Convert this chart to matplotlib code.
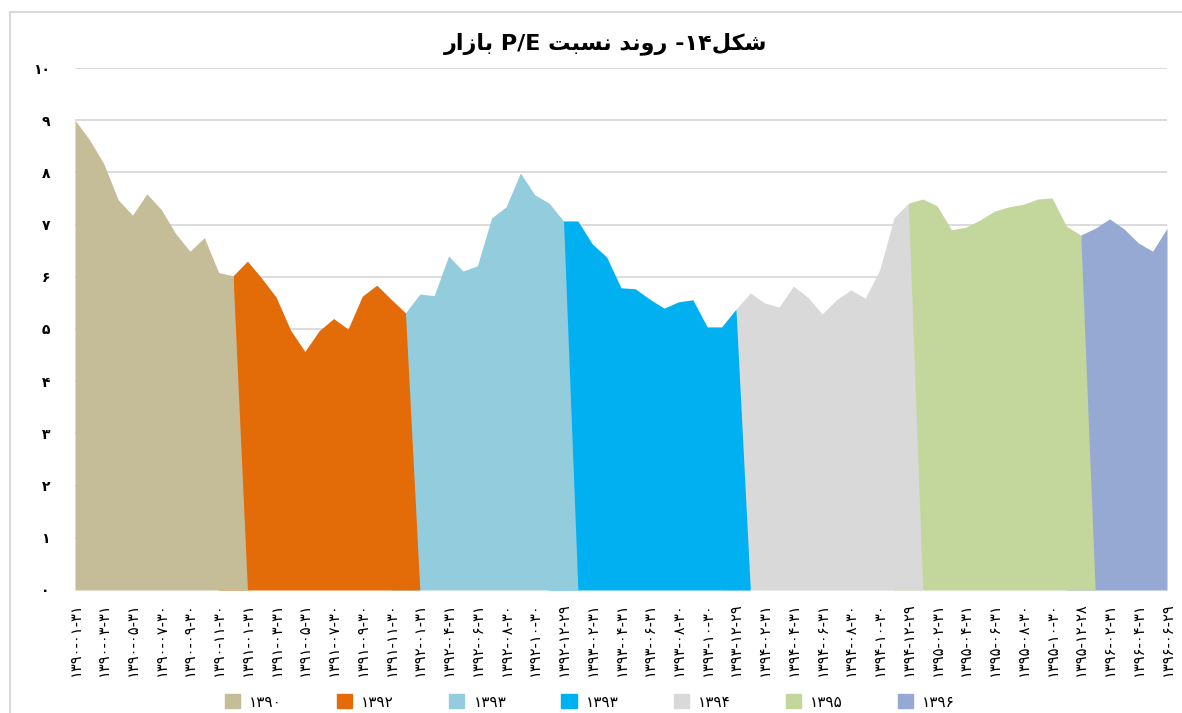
import numpy as np
import matplotlib.pyplot as plt
from matplotlib.patches import Patch, Rectangle

# P/E values, one per month (1390-01 .. 1396-06)
pe_values = [9.00, 8.63, 8.17, 7.48, 7.18, 7.59, 7.29, 6.83, 6.49, 6.75, 6.08, 6.02,
             6.30, 5.97, 5.61, 4.98, 4.57, 4.97, 5.20, 5.00, 5.63, 5.84, 5.57, 5.31,
             5.67, 5.64, 6.40, 6.11, 6.21, 7.13, 7.34, 7.99, 7.57, 7.41, 7.07,
             7.07, 6.63, 6.38, 5.79, 5.77, 5.57, 5.40, 5.52, 5.56, 5.04, 5.04, 5.38,
             5.69, 5.50, 5.42, 5.82, 5.61, 5.29, 5.56, 5.75, 5.59, 6.13, 7.13, 7.41,
             7.49, 7.36, 6.90, 6.95, 7.09, 7.26, 7.34, 7.39, 7.49, 7.51, 6.97, 6.80,
             6.93, 7.11, 6.92, 6.65, 6.49, 6.93]

# labels shown on every second point
tick_labels = ["1390-01-31", "1390-03-31", "1390-05-31", "1390-07-30", "1390-09-30", "1390-11-30",
               "1391-01-31", "1391-03-31", "1391-05-31", "1391-07-30", "1391-09-30", "1391-11-30",
               "1392-01-31", "1392-04-31", "1392-06-31", "1392-08-30", "1392-10-30", "1392-12-29",
               "1393-02-31", "1393-04-31", "1393-06-31", "1393-08-30", "1393-10-30", "1393-12-29",
               "1394-02-31", "1394-04-31", "1394-06-31", "1394-08-30", "1394-10-30", "1394-12-29",
               "1395-02-31", "1395-04-31", "1395-06-31", "1395-08-30", "1395-10-30", "1395-12-28",
               "1396-02-31", "1396-04-31", "1396-06-29"]

# year segments: first index, last index, colour, legend text
seg_start = [0, 11, 23, 34, 46, 58, 70]
seg_end = [11, 23, 34, 46, 58, 70, 76]
seg_colors = ['#C4BD97', '#E36C09', '#93CDDD', '#00B0F0', '#D9D9D9', '#C3D69B', '#95A9D2']
seg_names = ["1390", "1392", "1393", "1393", "1394", "1395", "1396"]

title = "شکل14- روند نسبت P/E بازار"

FA_DIGITS = str.maketrans("0123456789", "۰۱۲۳۴۵۶۷۸۹")

# small arabic shaper (isolated, final, initial, medial)
FORMS = {
    'ا': ('\uFE8D', '\uFE8E', None, None),
    'ب': ('\uFE8F', '\uFE90', '\uFE91', '\uFE92'),
    'ت': ('\uFE95', '\uFE96', '\uFE97', '\uFE98'),
    'د': ('\uFEA9', '\uFEAA', None, None),
    'ر': ('\uFEAD', '\uFEAE', None, None),
    'ز': ('\uFEAF', '\uFEB0', None, None),
    'س': ('\uFEB1', '\uFEB2', '\uFEB3', '\uFEB4'),
    'ش': ('\uFEB5', '\uFEB6', '\uFEB7', '\uFEB8'),
    'ل': ('\uFEDD', '\uFEDE', '\uFEDF', '\uFEE0'),
    'ن': ('\uFEE5', '\uFEE6', '\uFEE7', '\uFEE8'),
    'و': ('\uFEED', '\uFEEE', None, None),
    'ک': ('\uFB8E', '\uFB8F', '\uFB90', '\uFB91'),
}


def shape_word(w):
    out = []
    for i, c in enumerate(w):
        prev_join = i > 0 and FORMS[w[i - 1]][2] is not None
        next_join = i < len(w) - 1 and FORMS[c][2] is not None
        f = FORMS[c]
        if prev_join and next_join:
            out.append(f[3])
        elif prev_join:
            out.append(f[1])
        elif next_join:
            out.append(f[2])
        else:
            out.append(f[0])
    return ''.join(out[::-1])


def kind(c):
    if c in FORMS:
        return 'ar'
    if c.isdigit():
        return 'num'
    return 'other'


def rtl(text):
    words = []
    for tok in text.split(' '):
        runs, cur, cur_k = [], '', None
        for c in tok:
            k = kind(c)
            if cur and (k != cur_k or k == 'other'):
                runs.append((cur, cur_k))
                cur = ''
            cur += c
            cur_k = k
        if cur:
            runs.append((cur, cur_k))
        if any(k == 'ar' for _, k in runs):
            words.append(''.join(shape_word(r) if k == 'ar' else r for r, k in runs[::-1]))
        else:
            words.append(tok)
    return ' '.join(words[::-1])


x = np.arange(len(pe_values))
y = np.array(pe_values)

fig = plt.figure(figsize=(11.82, 7.13), dpi=100)
ax = fig.add_axes([75 / 1182, 123 / 713, 1092 / 1182, 522 / 713])

for k in range(len(seg_start)):
    lo = max(seg_start[k] - 1, 0)
    hi = min(seg_end[k] + 1, len(x) - 1)
    xs = x[lo:hi + 1]
    ys = np.where((xs >= seg_start[k]) & (xs <= seg_end[k]), y[lo:hi + 1], 0)
    ax.fill_between(xs, 0, ys, color=seg_colors[k], lw=0, zorder=10 - k)

ax.set_xlim(0, len(pe_values) - 1)
ax.set_ylim(0, 10)
ax.set_yticks(range(11))
ax.set_yticklabels([str(v).translate(FA_DIGITS) for v in range(11)],
                   fontweight='bold', fontsize=10)
ax.set_xticks(x[::2])
ax.set_xticklabels([t.translate(FA_DIGITS) for t in tick_labels], rotation=90, fontsize=10.5)
ax.tick_params(axis='y', length=0, pad=18)
ax.tick_params(axis='x', length=0, pad=9)
ax.grid(True, axis='y', color='#D9D9D9', lw=1.3)
ax.set_axisbelow(True)
for s in ax.spines.values():
    s.set_visible(False)

fig.text(606 / 1182, 1 - 44 / 713, rtl(title.translate(FA_DIGITS)),
         ha='center', va='center', fontsize=16, fontweight='bold')

handles = [Patch(color=c) for c in seg_colors]
fig.legend(handles, [n.translate(FA_DIGITS) for n in seg_names], loc='center',
           bbox_to_anchor=(590 / 1182, 11 / 713), ncol=7, frameon=False, fontsize=11,
           handlelength=1.0, handleheight=1.0, columnspacing=3.6, handletextpad=0.6)

fig.patches.append(Rectangle((10 / 1182, -0.05), 1.1, 1 - 12 / 713 + 0.05,
                             transform=fig.transFigure, fill=False,
                             edgecolor='#D9D9D9', lw=1.5))

plt.savefig("out.png", dpi=100)
